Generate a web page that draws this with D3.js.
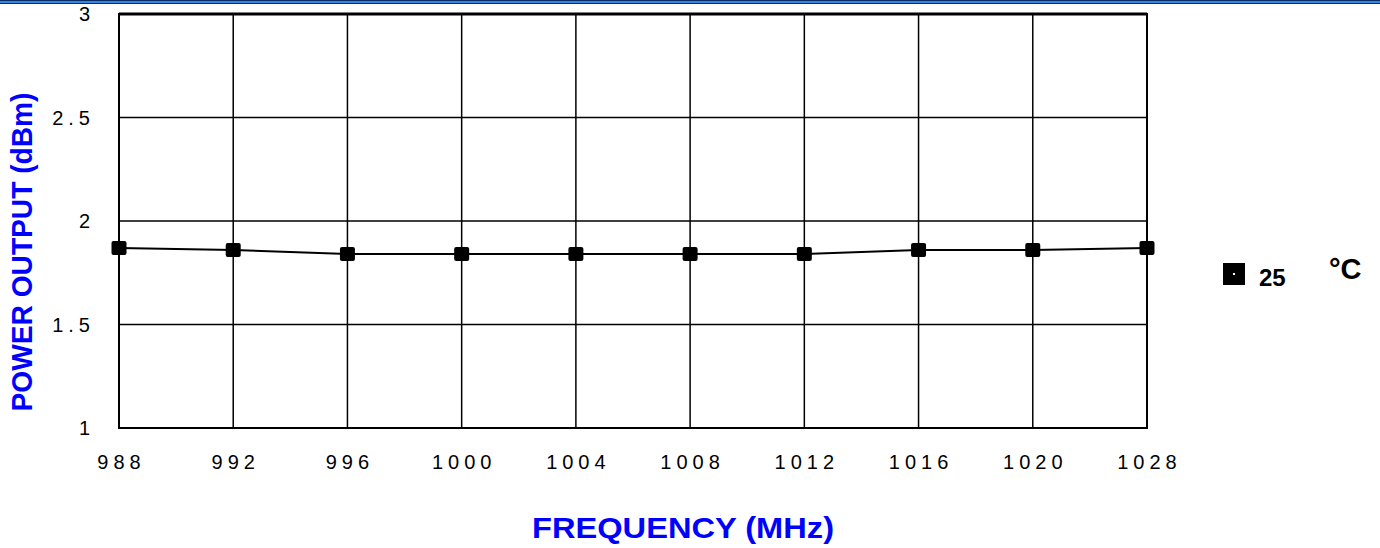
<!DOCTYPE html>
<html>
<head>
<meta charset="utf-8">
<script src="https://cdn.jsdelivr.net/npm/d3@7"></script>
<style>
  body { margin: 0; background: #fff; }
  svg { display: block; }
</style>
</head>
<body>
<div id="chart"></div>
<script>
const freqLabels = ["988", "992", "996", "1000", "1004", "1008", "1012", "1016", "1020", "1028"];
const power25 = [1.87, 1.86, 1.84, 1.84, 1.84, 1.84, 1.84, 1.86, 1.86, 1.87];
const yTicks = [1, 1.5, 2, 2.5, 3];
const seriesName = "25";

function drawChart() {
    const svg = d3.select("#chart").append("svg")
        .attr("width", 1380)
        .attr("height", 548);

    const margin = { top: 14, right: 233, bottom: 120, left: 119 },
        width = 1380 - margin.left - margin.right,
        height = 548 - margin.top - margin.bottom;

    // page border strip at the top
    svg.append("rect").attr("x", 0).attr("y", 0).attr("width", 1380).attr("height", 4).attr("fill", "#0b2b5c");
    svg.append("rect").attr("x", 0).attr("y", 1).attr("width", 1380).attr("height", 2).attr("fill", "#2f86ec");

    const x = d3.scalePoint().domain(freqLabels).range([0, width]);
    const y = d3.scaleLinear().domain([1, 3]).range([height, 0]);

    const g = svg.append("g").attr("transform", `translate(${margin.left},${margin.top})`);

    // grid
    g.selectAll(".vgrid").data(freqLabels).enter().append("line")
        .attr("x1", d => x(d)).attr("x2", d => x(d))
        .attr("y1", 0).attr("y2", height)
        .attr("stroke", "#000").attr("stroke-width", 1.5);
    g.selectAll(".hgrid").data(yTicks).enter().append("line")
        .attr("x1", 0).attr("x2", width)
        .attr("y1", d => y(d)).attr("y2", d => y(d))
        .attr("stroke", "#000").attr("stroke-width", 1.5);

    // frame, heavier on top and left
    g.append("rect").attr("x", 0).attr("y", 0).attr("width", width).attr("height", height)
        .attr("fill", "none").attr("stroke", "#000").attr("stroke-width", 2);
    g.append("line").attr("x1", 0).attr("x2", width).attr("y1", 0).attr("y2", 0)
        .attr("stroke", "#000").attr("stroke-width", 3);

    // tick labels
    g.selectAll(".ylab").data(yTicks).enter().append("text")
        .attr("x", -24)
        .attr("y", d => y(d))
        .attr("dy", "0.35em")
        .attr("text-anchor", "end")
        .style("font", "20px 'Liberation Sans', Arial, sans-serif")
        .style("letter-spacing", "5px")
        .text(d => d);

    g.selectAll(".xlab").data(freqLabels).enter().append("text")
        .attr("x", d => x(d) + 2.5)
        .attr("y", height + 41)
        .attr("text-anchor", "middle")
        .style("font", "20px 'Liberation Sans', Arial, sans-serif")
        .style("letter-spacing", "5px")
        .text(d => d);

    // series
    const pts = freqLabels.map((f, i) => ({ f: f, v: power25[i] }));
    const line = d3.line().x(d => x(d.f)).y(d => y(d.v));
    g.append("path").datum(pts)
        .attr("fill", "none").attr("stroke", "#000").attr("stroke-width", 2)
        .attr("d", line);
    g.selectAll(".mark").data(pts).enter().append("rect")
        .attr("x", d => x(d.f) - 7.5).attr("y", d => y(d.v) - 7)
        .attr("width", 15).attr("height", 14).attr("rx", 2)
        .attr("fill", "#000");

    // axis titles
    svg.append("text")
        .attr("transform", "translate(32,252) rotate(-90)")
        .attr("text-anchor", "middle")
        .attr("textLength", 319).attr("lengthAdjust", "spacingAndGlyphs")
        .style("font", "bold 29px 'Liberation Sans', Arial, sans-serif")
        .attr("fill", "#0000ff")
        .text("POWER OUTPUT (dBm)");

    svg.append("text")
        .attr("x", 683).attr("y", 538)
        .attr("text-anchor", "middle")
        .attr("textLength", 302).attr("lengthAdjust", "spacingAndGlyphs")
        .style("font", "bold 30px 'Liberation Sans', Arial, sans-serif")
        .attr("fill", "#0000ff")
        .text("FREQUENCY (MHz)");

    // legend
    const lg = svg.append("g").attr("transform", "translate(1223,263)");
    lg.append("rect").attr("width", 22).attr("height", 22).attr("fill", "#000");
    lg.append("rect").attr("x", 10).attr("y", 10).attr("width", 2).attr("height", 2).attr("fill", "#fff");
    lg.append("text").attr("x", 36).attr("y", 23)
        .style("font", "bold 24px 'Liberation Sans', Arial, sans-serif")
        .text(seriesName);
    lg.append("text").attr("x", 106).attr("y", 16)
        .style("font", "bold 29px 'Liberation Sans', Arial, sans-serif")
        .text("°C");
}

drawChart();
</script>
</body>
</html>
